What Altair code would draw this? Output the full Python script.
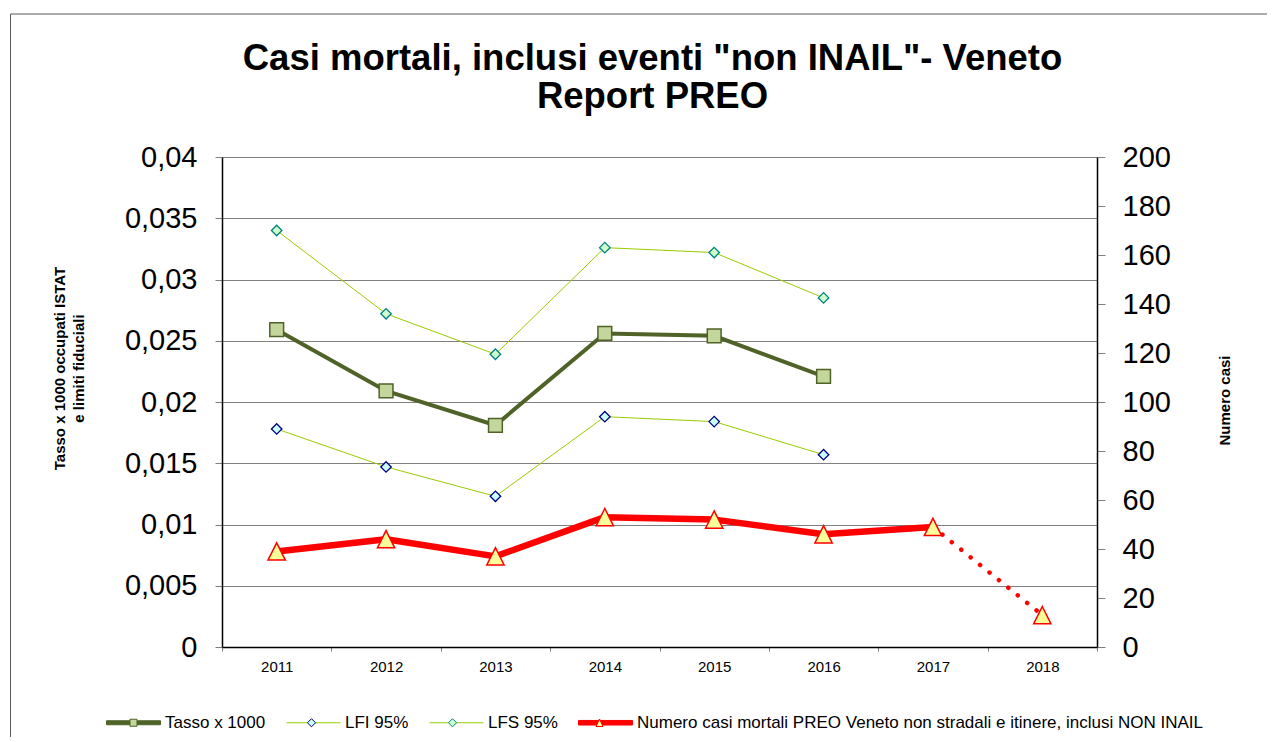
import altair as alt
import pandas as pd

# ---------------- data ----------------
years = ["2011", "2012", "2013", "2014", "2015", "2016", "2017", "2018"]
tasso = [0.0259, 0.0209, 0.0181, 0.0256, 0.0254, 0.0221]
lfi = [0.0178, 0.0147, 0.0123, 0.0188, 0.0184, 0.0157]
lfs = [0.0340, 0.0272, 0.0239, 0.0326, 0.0322, 0.0285]
casi = [39, 44, 37, 53, 52, 46, 49, 13]

series = [
    "Tasso x 1000",
    "LFI 95%",
    "LFS 95%",
    "Numero casi mortali PREO Veneto non stradali e itinere, inclusi NON INAIL",
]
left_ticks = [0, 0.005, 0.01, 0.015, 0.02, 0.025, 0.03, 0.035, 0.04]
right_ticks = [0, 20, 40, 60, 80, 100, 120, 140, 160, 180, 200]

title_lines = ['Casi mortali, inclusi eventi "non INAIL"- Veneto', "Report PREO"]

# ---------------- styles ----------------
FONT = "Liberation Sans"
OLIVE = "#4f6228"
OLIVE_FILL = "#c3d69b"
YG = "#99cc00"
RED = "#ff0000"

rate_df = pd.DataFrame({"anno": years[:6], "tasso": tasso, "lfi": lfi, "lfs": lfs})
casi_df = pd.DataFrame({"anno": years, "casi": casi})
solid_df = casi_df[casi_df["anno"] <= "2017"]
dot_df = casi_df[casi_df["anno"] >= "2017"]

x_enc = alt.X(
    "anno:O",
    scale=alt.Scale(type="band", domain=years, paddingInner=0, paddingOuter=0),
    axis=alt.Axis(
        title=None, labelAngle=0, tickBand="extent", labelFont=FONT, labelFontSize=15,
        labelColor="black", labelPadding=8, tickSize=4, tickColor="#808080",
        domainColor="black", domainWidth=1.5, grid=False,
    ),
)

left_scale = alt.Scale(domain=[0, 0.04], nice=False, zero=True)
left_axis = alt.Axis(
    values=left_ticks,
    labelExpr="replace(format(datum.value, '.3~f'), '.', ',')",
    labelFont=FONT, labelFontSize=29, labelColor="black", labelPadding=18,
    tickSize=7, tickColor="#808080", domainColor="black", domainWidth=1.5,
    grid=True, gridColor="#808080", gridWidth=1,
    title=["Tasso x 1000 occupati ISTAT", "e limiti fiduciali"],
    titleFont=FONT, titleFontSize=15, titleFontWeight="bold", titleColor="black",
    titleAngle=-90, titleAlign="center", titleBaseline="top", titleLineHeight=19,
    titleX=-170, titleY=211,
)


def ly(field):
    return alt.Y(f"{field}:Q", scale=left_scale, axis=left_axis)


base_rate = alt.Chart(rate_df)

tasso_line = base_rate.mark_line(color=OLIVE, strokeWidth=4).encode(x=x_enc, y=ly("tasso"))
tasso_pts = base_rate.mark_point(
    shape="square", size=190, filled=True, fill=OLIVE_FILL, stroke=OLIVE, strokeWidth=1.5, opacity=1
).encode(x=x_enc, y=ly("tasso"))

lfi_line = base_rate.mark_line(color=YG, strokeWidth=1).encode(x=x_enc, y=ly("lfi"))
lfi_pts = base_rate.mark_point(
    shape="diamond", size=110, filled=True, fill="#ccffff", stroke="#000080", strokeWidth=1.3, opacity=1
).encode(x=x_enc, y=ly("lfi"))

lfs_line = base_rate.mark_line(color=YG, strokeWidth=1).encode(x=x_enc, y=ly("lfs"))
lfs_pts = base_rate.mark_point(
    shape="diamond", size=110, filled=True, fill="#ccffcc", stroke="#008080", strokeWidth=1.3, opacity=1
).encode(x=x_enc, y=ly("lfs"))

# ---------------- legends (two stacked legends: lines + markers) ----------------
leg_df = pd.DataFrame({"serie": series})
line_paths = ["M-1,-0.074H1V0.074H-1Z", "M-1,0H1", "M-1,0H1", "M-1,-0.085H1V0.085H-1Z"]
line_cols = [OLIVE, YG, YG, RED]
mark_paths = [
    "M-0.13,-0.13H0.13V0.13H-0.13Z",
    "M-0.15,0L0,-0.15L0.15,0L0,0.15Z",
    "M-0.15,0L0,-0.15L0.15,0L0,0.15Z",
    "M0,-0.14L0.13,0.14L-0.13,0.14Z",
]
mark_fills = [OLIVE_FILL, "#ccffff", "#ccffcc", "#ffff99"]
mark_strokes = [OLIVE, "#000080", "#008080", RED]

LEG_X = -116
LEG_Y = 538


def legend(label_opacity):
    return alt.Legend(
        title=None, orient="none", direction="horizontal", columns=4,
        legendX=LEG_X, legendY=LEG_Y, padding=0, symbolSize=2916, symbolStrokeWidth=1,
        labelFont=FONT, labelFontSize=17, labelColor="black", labelOffset=4,
        columnPadding=18, labelOpacity=label_opacity, labelLimit=0, symbolOpacity=1,
    )


legA = alt.Chart(leg_df).transform_filter("false").mark_point(filled=True, strokeWidth=1, opacity=1).encode(
    shape=alt.Shape("serie:N", scale=alt.Scale(domain=series, range=line_paths), legend=legend(1)),
    fill=alt.Fill("serie:N", scale=alt.Scale(domain=series, range=line_cols), legend=legend(1)),
    stroke=alt.Stroke("serie:N", scale=alt.Scale(domain=series, range=line_cols), legend=legend(1)),
)
legB = alt.Chart(leg_df).transform_filter("false").mark_point(filled=True, strokeWidth=1, opacity=1).encode(
    shape=alt.Shape("serie:N", scale=alt.Scale(domain=series, range=mark_paths), legend=legend(0)),
    fill=alt.Fill("serie:N", scale=alt.Scale(domain=series, range=mark_fills), legend=legend(0)),
    stroke=alt.Stroke("serie:N", scale=alt.Scale(domain=series, range=mark_strokes), legend=legend(0)),
)

# ---------------- outer chart frame (decoration only) ----------------
frame = alt.Chart(pd.DataFrame({"f": [0]})).mark_rect(
    filled=False, fillOpacity=0, stroke="#595959", strokeWidth=1, clip=False
).encode(x=alt.value(-211.5), x2=alt.value(1100), y=alt.value(-143), y2=alt.value(620))

left_layer = alt.layer(
    frame, lfs_line, lfi_line, tasso_line, lfs_pts, lfi_pts, tasso_pts, legA, legB
).resolve_scale(shape="independent", fill="independent", stroke="independent")

right_scale = alt.Scale(domain=[0, 200], nice=False, zero=True)
right_axis = alt.Axis(
    orient="right", values=right_ticks,
    labelFont=FONT, labelFontSize=29, labelColor="black", labelPadding=17,
    tickSize=8, tickColor="#808080", domainColor="black", domainWidth=1.5, grid=False,
    title="Numero casi", titleFont=FONT, titleFontSize=15, titleFontWeight="bold",
    titleColor="black", titleAngle=-90, titleAlign="center", titleBaseline="top",
    titleX=120, titleY=243,
)
ry = alt.Y("casi:Q", scale=right_scale, axis=right_axis)

casi_solid = alt.Chart(solid_df).mark_line(color=RED, strokeWidth=6.5, strokeJoin="round").encode(
    x=x_enc, y=ry
)
casi_dot = alt.Chart(dot_df).mark_line(
    color=RED, strokeWidth=4.5, strokeCap="round", strokeDash=[0.1, 12]
).encode(x=x_enc, y=ry)
casi_pts = alt.Chart(casi_df).mark_point(
    shape="M0,-1L1,1L-1,1Z", size=300, filled=True, fill="#ffff99", stroke=RED, strokeWidth=1.5, opacity=1
).encode(x=x_enc, y=ry)

right_layer = alt.layer(casi_solid, casi_dot, casi_pts)

chart = (
    alt.layer(left_layer, right_layer)
    .resolve_scale(y="independent")
    .properties(
        width=875,
        height=490,
        padding={"left": 214, "top": 149, "right": 170, "bottom": 90},
        autosize=alt.AutoSizeParams(type="none"),
        background="white",
        title=alt.TitleParams(
            text=title_lines, font=FONT, fontSize=36.5, fontWeight="bold", color="black",
            anchor="middle", frame="group", lineHeight=38, offset=-102, dx=-7,
        ),
    )
    .configure_view(stroke=None)
)

chart.save("out.html", embed_options={"renderer": "svg", "actions": False})
